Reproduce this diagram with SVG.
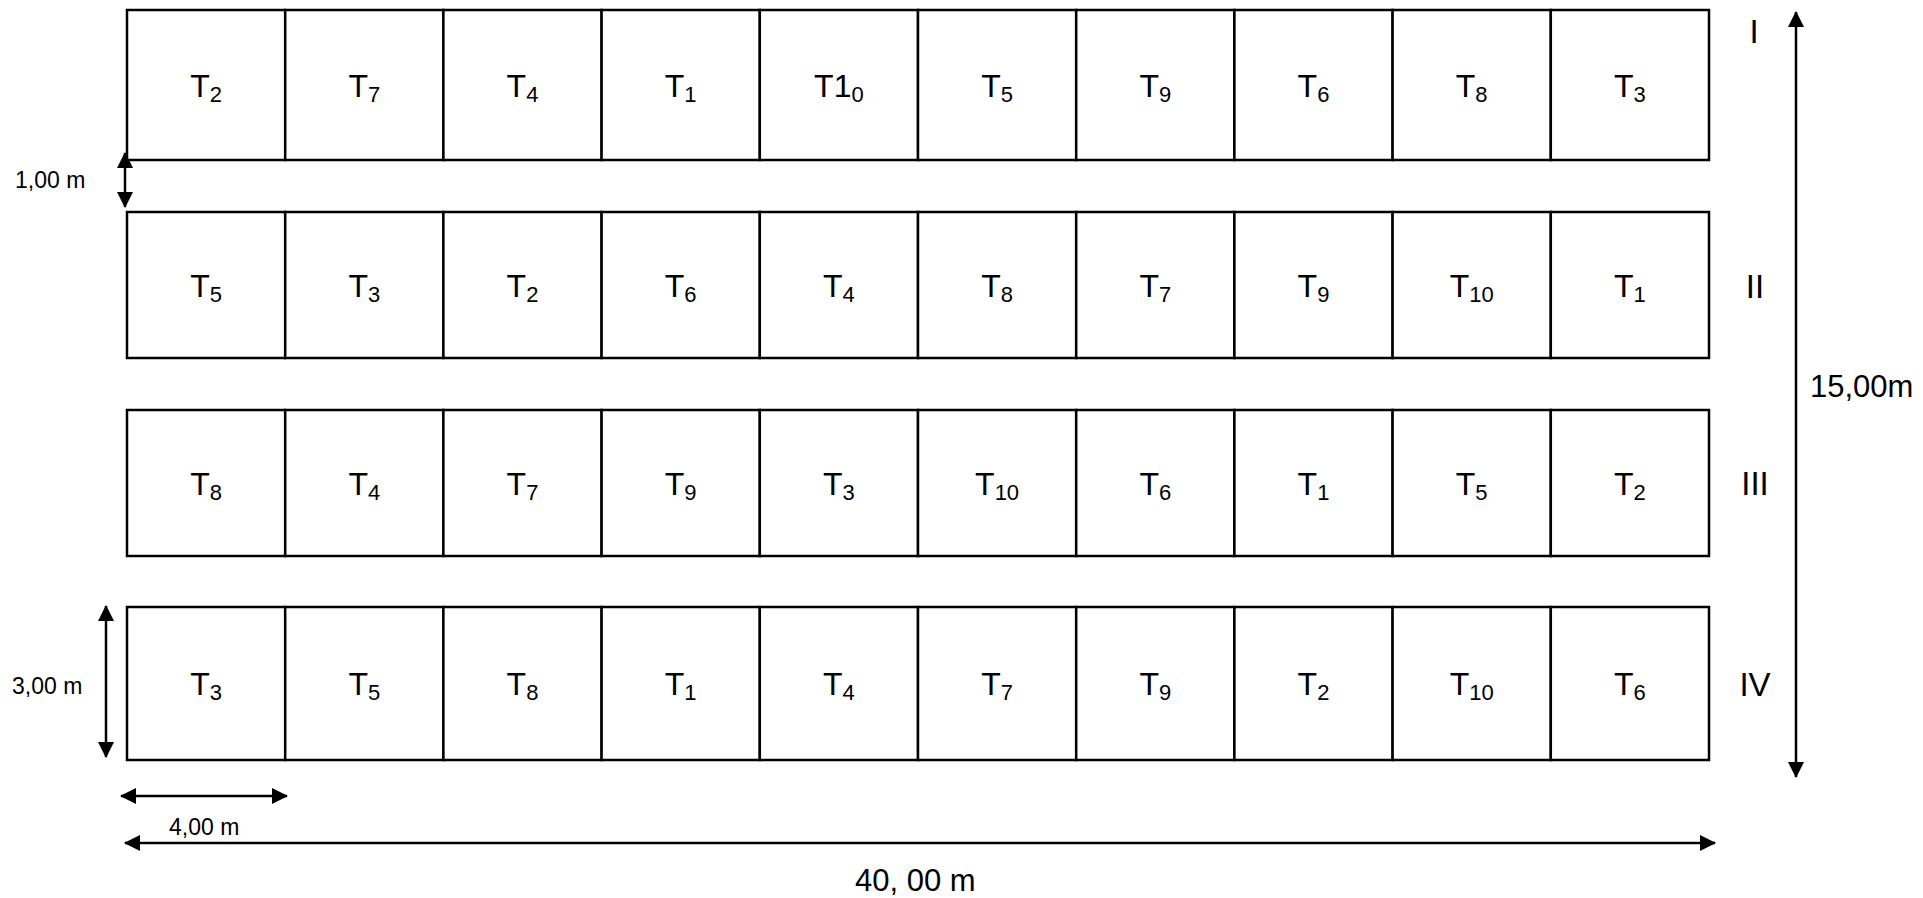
<svg xmlns="http://www.w3.org/2000/svg" width="1923" height="898" viewBox="0 0 1923 898">
<style>
.c{fill:#fff;stroke:#000;stroke-width:2.5}
.t{font-family:"Liberation Sans",Arial,sans-serif;font-size:32px;fill:#000;text-anchor:middle}
.s{font-size:22px}
.r{font-family:"Liberation Sans",Arial,sans-serif;font-size:33px;fill:#000;text-anchor:middle}
.d{font-family:"Liberation Sans",Arial,sans-serif;font-size:23px;fill:#000}
.big{font-family:"Liberation Sans",Arial,sans-serif;font-size:31px;fill:#000}
.a{stroke:#000;stroke-width:2.5;fill:none;marker-start:url(#ah);marker-end:url(#ah)}
</style>
<defs>
<marker id="ah" markerUnits="userSpaceOnUse" markerWidth="16" markerHeight="16" refX="15" refY="8" orient="auto-start-reverse" viewBox="0 0 16 16">
<path d="M0,0 L16,8 L0,16 Z" fill="#000"/>
</marker>
</defs>
<rect width="1923" height="898" fill="#fff"/>
<!-- Row I -->
<g id="r1c1"><rect class="c" x="127" y="10" width="158.2" height="150"/><text class="t" x="206.1" y="97">T<tspan class="s" dy="5">2</tspan></text></g>
<g id="r1c2"><rect class="c" x="285.2" y="10" width="158.2" height="150"/><text class="t" x="364.3" y="97">T<tspan class="s" dy="5">7</tspan></text></g>
<g id="r1c3"><rect class="c" x="443.4" y="10" width="158.2" height="150"/><text class="t" x="522.5" y="97">T<tspan class="s" dy="5">4</tspan></text></g>
<g id="r1c4"><rect class="c" x="601.6" y="10" width="158.2" height="150"/><text class="t" x="680.7" y="97">T<tspan class="s" dy="5">1</tspan></text></g>
<g id="r1c5"><rect class="c" x="759.8" y="10" width="158.2" height="150"/><text class="t" x="838.9" y="97">T1<tspan class="s" dy="5">0</tspan></text></g>
<g id="r1c6"><rect class="c" x="918" y="10" width="158.2" height="150"/><text class="t" x="997.1" y="97">T<tspan class="s" dy="5">5</tspan></text></g>
<g id="r1c7"><rect class="c" x="1076.2" y="10" width="158.2" height="150"/><text class="t" x="1155.3" y="97">T<tspan class="s" dy="5">9</tspan></text></g>
<g id="r1c8"><rect class="c" x="1234.4" y="10" width="158.2" height="150"/><text class="t" x="1313.5" y="97">T<tspan class="s" dy="5">6</tspan></text></g>
<g id="r1c9"><rect class="c" x="1392.6" y="10" width="158.2" height="150"/><text class="t" x="1471.7" y="97">T<tspan class="s" dy="5">8</tspan></text></g>
<g id="r1c10"><rect class="c" x="1550.8" y="10" width="158.2" height="150"/><text class="t" x="1629.9" y="97">T<tspan class="s" dy="5">3</tspan></text></g>
<!-- Row II -->
<g id="r2c1"><rect class="c" x="127" y="212" width="158.2" height="146"/><text class="t" x="206.1" y="297">T<tspan class="s" dy="5">5</tspan></text></g>
<g id="r2c2"><rect class="c" x="285.2" y="212" width="158.2" height="146"/><text class="t" x="364.3" y="297">T<tspan class="s" dy="5">3</tspan></text></g>
<g id="r2c3"><rect class="c" x="443.4" y="212" width="158.2" height="146"/><text class="t" x="522.5" y="297">T<tspan class="s" dy="5">2</tspan></text></g>
<g id="r2c4"><rect class="c" x="601.6" y="212" width="158.2" height="146"/><text class="t" x="680.7" y="297">T<tspan class="s" dy="5">6</tspan></text></g>
<g id="r2c5"><rect class="c" x="759.8" y="212" width="158.2" height="146"/><text class="t" x="838.9" y="297">T<tspan class="s" dy="5">4</tspan></text></g>
<g id="r2c6"><rect class="c" x="918" y="212" width="158.2" height="146"/><text class="t" x="997.1" y="297">T<tspan class="s" dy="5">8</tspan></text></g>
<g id="r2c7"><rect class="c" x="1076.2" y="212" width="158.2" height="146"/><text class="t" x="1155.3" y="297">T<tspan class="s" dy="5">7</tspan></text></g>
<g id="r2c8"><rect class="c" x="1234.4" y="212" width="158.2" height="146"/><text class="t" x="1313.5" y="297">T<tspan class="s" dy="5">9</tspan></text></g>
<g id="r2c9"><rect class="c" x="1392.6" y="212" width="158.2" height="146"/><text class="t" x="1471.7" y="297">T<tspan class="s" dy="5">10</tspan></text></g>
<g id="r2c10"><rect class="c" x="1550.8" y="212" width="158.2" height="146"/><text class="t" x="1629.9" y="297">T<tspan class="s" dy="5">1</tspan></text></g>
<!-- Row III -->
<g id="r3c1"><rect class="c" x="127" y="410" width="158.2" height="146"/><text class="t" x="206.1" y="495">T<tspan class="s" dy="5">8</tspan></text></g>
<g id="r3c2"><rect class="c" x="285.2" y="410" width="158.2" height="146"/><text class="t" x="364.3" y="495">T<tspan class="s" dy="5">4</tspan></text></g>
<g id="r3c3"><rect class="c" x="443.4" y="410" width="158.2" height="146"/><text class="t" x="522.5" y="495">T<tspan class="s" dy="5">7</tspan></text></g>
<g id="r3c4"><rect class="c" x="601.6" y="410" width="158.2" height="146"/><text class="t" x="680.7" y="495">T<tspan class="s" dy="5">9</tspan></text></g>
<g id="r3c5"><rect class="c" x="759.8" y="410" width="158.2" height="146"/><text class="t" x="838.9" y="495">T<tspan class="s" dy="5">3</tspan></text></g>
<g id="r3c6"><rect class="c" x="918" y="410" width="158.2" height="146"/><text class="t" x="997.1" y="495">T<tspan class="s" dy="5">10</tspan></text></g>
<g id="r3c7"><rect class="c" x="1076.2" y="410" width="158.2" height="146"/><text class="t" x="1155.3" y="495">T<tspan class="s" dy="5">6</tspan></text></g>
<g id="r3c8"><rect class="c" x="1234.4" y="410" width="158.2" height="146"/><text class="t" x="1313.5" y="495">T<tspan class="s" dy="5">1</tspan></text></g>
<g id="r3c9"><rect class="c" x="1392.6" y="410" width="158.2" height="146"/><text class="t" x="1471.7" y="495">T<tspan class="s" dy="5">5</tspan></text></g>
<g id="r3c10"><rect class="c" x="1550.8" y="410" width="158.2" height="146"/><text class="t" x="1629.9" y="495">T<tspan class="s" dy="5">2</tspan></text></g>
<!-- Row IV -->
<g id="r4c1"><rect class="c" x="127" y="607" width="158.2" height="153"/><text class="t" x="206.1" y="695">T<tspan class="s" dy="5">3</tspan></text></g>
<g id="r4c2"><rect class="c" x="285.2" y="607" width="158.2" height="153"/><text class="t" x="364.3" y="695">T<tspan class="s" dy="5">5</tspan></text></g>
<g id="r4c3"><rect class="c" x="443.4" y="607" width="158.2" height="153"/><text class="t" x="522.5" y="695">T<tspan class="s" dy="5">8</tspan></text></g>
<g id="r4c4"><rect class="c" x="601.6" y="607" width="158.2" height="153"/><text class="t" x="680.7" y="695">T<tspan class="s" dy="5">1</tspan></text></g>
<g id="r4c5"><rect class="c" x="759.8" y="607" width="158.2" height="153"/><text class="t" x="838.9" y="695">T<tspan class="s" dy="5">4</tspan></text></g>
<g id="r4c6"><rect class="c" x="918" y="607" width="158.2" height="153"/><text class="t" x="997.1" y="695">T<tspan class="s" dy="5">7</tspan></text></g>
<g id="r4c7"><rect class="c" x="1076.2" y="607" width="158.2" height="153"/><text class="t" x="1155.3" y="695">T<tspan class="s" dy="5">9</tspan></text></g>
<g id="r4c8"><rect class="c" x="1234.4" y="607" width="158.2" height="153"/><text class="t" x="1313.5" y="695">T<tspan class="s" dy="5">2</tspan></text></g>
<g id="r4c9"><rect class="c" x="1392.6" y="607" width="158.2" height="153"/><text class="t" x="1471.7" y="695">T<tspan class="s" dy="5">10</tspan></text></g>
<g id="r4c10"><rect class="c" x="1550.8" y="607" width="158.2" height="153"/><text class="t" x="1629.9" y="695">T<tspan class="s" dy="5">6</tspan></text></g>
<!-- Row labels -->
<g id="labels">
<text class="r" x="1754" y="43">I</text>
<text class="r" x="1755" y="298">II</text>
<text class="r" x="1755" y="495">III</text>
<text class="r" x="1755" y="696">IV</text>
</g>
<!-- Dimension connectors -->
<g id="connectors">
<line class="a" x1="125" y1="153" x2="125" y2="207"/>
<line class="a" x1="106" y1="606" x2="106" y2="757"/>
<line class="a" x1="121" y1="796" x2="287" y2="796"/>
<line class="a" x1="125" y1="843" x2="1715" y2="843"/>
<line class="a" x1="1796" y1="12" x2="1796" y2="777"/>
</g>
<g id="dims">
<text class="d" x="15" y="188">1,00 m</text>
<text class="d" x="12" y="694">3,00 m</text>
<text class="d" x="169" y="835">4,00 m</text>
<text class="big" x="855" y="891">40, 00 m</text>
<text class="big" x="1810" y="397">15,00m</text>
</g>
</svg>
